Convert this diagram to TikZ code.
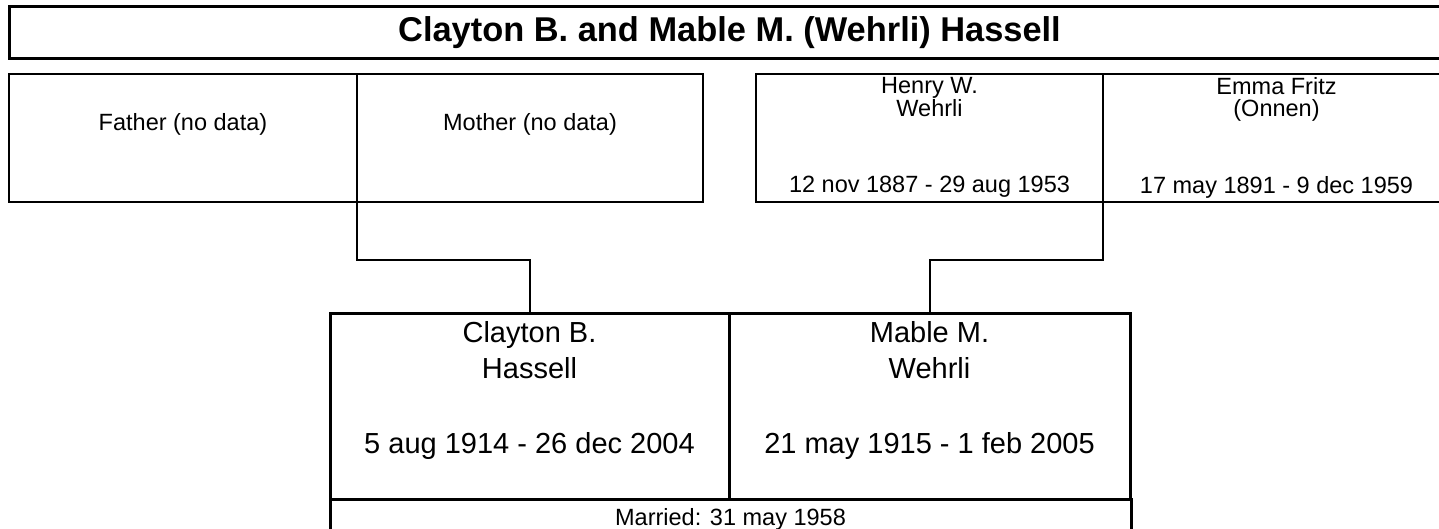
\documentclass[tikz,border=0pt]{standalone}
\usepackage{fontspec}
\setmainfont{Liberation Sans}
\usetikzlibrary{positioning}

\begin{document}
\begin{tikzpicture}[x=1pt,y=-1pt,
  node distance=0pt,
  banner/.style={draw,line width=3pt,outer sep=0pt,inner sep=0pt,minimum width=1441pt,minimum height=52pt,font=\fontsize{34.4}{36}\selectfont\bfseries},
  person/.style={draw,line width=2pt,outer sep=0pt,inner sep=0pt,align=center,minimum width=347pt,minimum height=128pt,font=\fontsize{23.5}{22.5}\selectfont},
  nodata/.style={person,text depth=32pt},
  spouse/.style={draw,line width=3pt,outer sep=0pt,inner sep=0pt,align=center,minimum height=186pt,font=\fontsize{29}{36}\selectfont,text depth=39pt},
  wedding/.style={draw,line width=3pt,outer sep=0pt,inner xsep=0pt,inner ysep=8.5pt,minimum width=801pt,font=\fontsize{23.5}{26}\selectfont},
  link/.style={line width=2pt}]
  \clip (0,0) rectangle (1439,529);
  \fill[white] (0,0) rectangle (1439,529);
  \node[banner,anchor=north west] (title) at (9,7) {Clayton B. and Mable M. (Wehrli) Hassell};
  \node[nodata,anchor=north west,minimum width=348pt] (father) at (9,73.7) {Father (no data)};
  \node[nodata,right=of father,minimum width=346pt] (mother) {Mother (no data)};
  \node[person,right=53pt of mother] (henry) {Henry W.\\Wehrli\\[54pt]12 nov 1887 - 29 aug 1953};
  \node[person,right=of henry] (emma) {Emma Fritz\\(Onnen)\\[54pt]17 may 1891 - 9 dec 1959};
  \node[spouse,anchor=north west,minimum width=399pt] (clayton) at (330,313.7) {Clayton B.\\Hassell\\[39pt]5 aug 1914 - 26 dec 2004};
  \node[spouse,right=of clayton,minimum width=401pt] (mable) {Mable M.\\Wehrli\\[39pt]21 may 1915 - 1 feb 2005};
  \node[wedding,anchor=north west] (married) at (clayton.south west) {Married: 31 may 1958};
  \draw[link] (mother.south west) -- ++(0,58.5) -| (clayton.north);
  \draw[link] (emma.south west) -- ++(0,58.5) -| (mable.north);
\end{tikzpicture}
\end{document}
